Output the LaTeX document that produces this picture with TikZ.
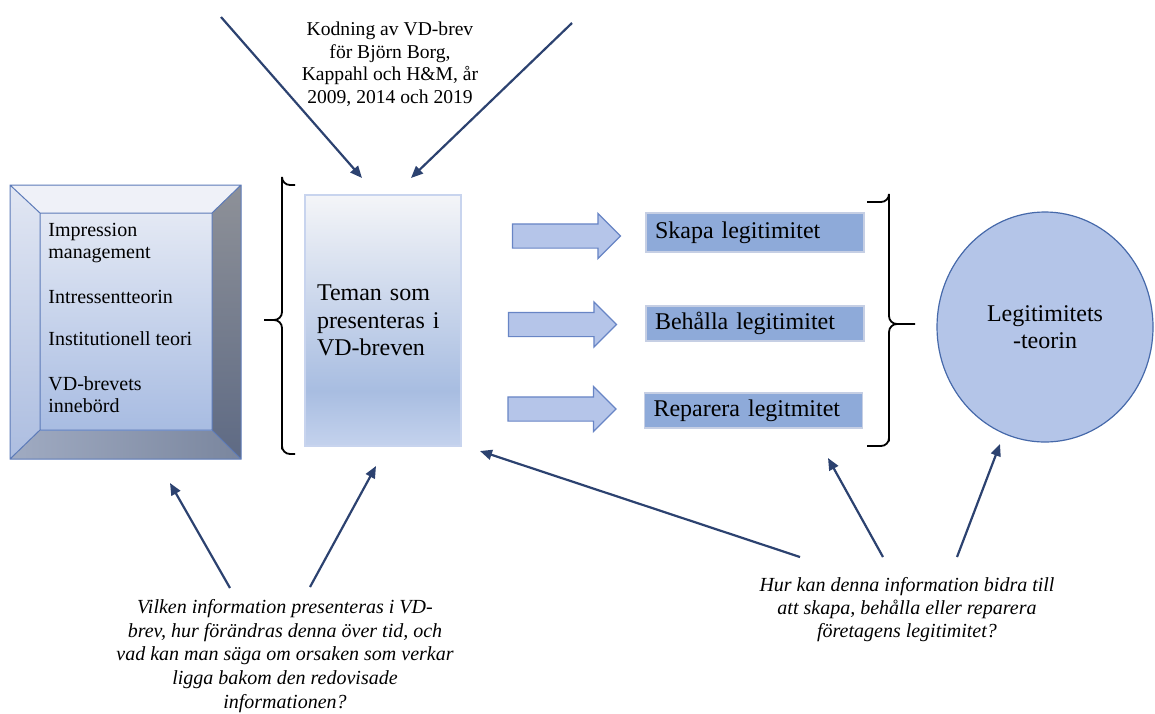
\documentclass[tikz,border=0pt]{standalone}
\usepackage{fontspec}
\setmainfont{Liberation Serif}
\usepackage{xcolor}
\definecolor{navy}{RGB}{44,66,112}
\definecolor{bevEdge}{RGB}{92,122,184}
\definecolor{bevTop}{RGB}{239,241,248}
\definecolor{bevLeftT}{RGB}{226,231,243}
\definecolor{bevLeftB}{RGB}{172,189,224}
\definecolor{bevRightT}{RGB}{142,145,152}
\definecolor{bevRightB}{RGB}{94,106,132}
\definecolor{bevBotL}{RGB}{160,171,194}
\definecolor{bevBotR}{RGB}{122,134,158}
\definecolor{innerT}{RGB}{228,233,244}
\definecolor{innerB}{RGB}{168,188,226}
\definecolor{temaTop}{RGB}{244,245,248}
\definecolor{temaMid}{RGB}{168,189,225}
\definecolor{temaBot}{RGB}{196,210,237}
\definecolor{temaEdge}{RGB}{200,212,238}
\definecolor{legFill}{RGB}{142,170,217}
\definecolor{legEdge}{RGB}{198,207,228}
\definecolor{blkFill}{RGB}{181,197,233}
\definecolor{blkEdge}{RGB}{104,133,197}
\definecolor{circFill}{RGB}{180,197,232}
\definecolor{circEdge}{RGB}{70,105,170}
\usepackage{tikz}
\usetikzlibrary{positioning,arrows.meta,calc,shapes.arrows,shapes.geometric}
\pgfdeclareverticalshading{temafill}{100bp}{color(0bp)=(temaBot); color(25bp)=(temaBot); color(36bp)=(temaMid); color(75bp)=(temaTop); color(100bp)=(temaTop)}

\begin{document}
\begin{tikzpicture}[x=0.5pt, y=-0.5pt,
  font=\fontsize{12}{13.75}\selectfont,
  smalltxt/.style={font=\fontsize{10}{10.75}\selectfont},
  toptxt/.style={font=\fontsize{9.8}{11.25}\selectfont, align=center},
  qtxtA/.style={font=\fontsize{10}{11.8}\selectfont\itshape, align=center},
  qtxtB/.style={font=\fontsize{10}{11.5}\selectfont\itshape, align=center},
  bev/.style={draw=bevEdge, line width=0.5pt},
  tema/.style={shading=temafill, draw=temaEdge, line width=0.6pt, minimum width=78pt,
    minimum height=125.5pt, text width=66pt, inner xsep=6pt, align=left},
  legbox/.style={fill=legFill, draw=legEdge, line width=0.6pt, text width=100pt,
    inner xsep=4.5pt, inner ysep=0pt, align=left},
  blk/.style={single arrow, single arrow head extend=5.25pt, inner xsep=0pt, inner ysep=5.75pt,
    minimum height=54pt, fill=blkFill, draw=blkEdge, line width=0.6pt},
  circ/.style={ellipse, fill=circFill, draw=circEdge, line width=0.6pt, minimum width=108pt,
    minimum height=115pt, align=center},
  arr/.style={-{Triangle[length=6pt,width=5pt]}, line width=1.1pt, navy},
  brc/.style={line width=0.9pt, rounded corners=4pt}]
\useasboundingbox (0,0) rectangle (1155,713);
% bevelled box with the theories
\coordinate (oTL) at (10,185); \coordinate (oTR) at (241,185);
\coordinate (oBL) at (10,459); \coordinate (oBR) at (241,459);
\coordinate (iTL) at (40,213); \coordinate (iTR) at (212,213);
\coordinate (iBL) at (40,430); \coordinate (iBR) at (212,430);
\fill[bevTop] (oTL) -- (oTR) -- (iTR) -- (iTL) -- cycle;
\shade[top color=bevLeftT, bottom color=bevLeftB] (oTL) -- (iTL) -- (iBL) -- (oBL) -- cycle;
\shade[top color=bevRightT, bottom color=bevRightB] (oTR) -- (oBR) -- (iBR) -- (iTR) -- cycle;
\shade[left color=bevBotL, right color=bevBotR] (oBL) -- (iBL) -- (iBR) -- (oBR) -- cycle;
\shade[top color=innerT, bottom color=innerB] (iTL) rectangle (iBR);
\draw[bev] (oTL) rectangle (oBR) (iTL) rectangle (iBR)
  (oTL) -- (iTL) (oTR) -- (iTR) (oBL) -- (iBL) (oBR) -- (iBR);
\node[smalltxt, anchor=west, align=left, inner sep=0pt] (teorier) at (48,318)
  {Impression\\management\\[12pt]Intressentteorin\\[10pt]Institutionell teori\\[12pt]VD-brevets\\innebörd};
% middle column
\node[tema] (tema) at (383,320.5) {Teman som\\presenteras i\\VD-breven};
\node[toptxt] (kod) at (390,64) {Kodning av VD-brev\\för Björn Borg,\\Kappahl och H\&M, år\\2009, 2014 och 2019};
\node[blk] (blkA) at (560.5,236) {};
\node[blk] (blkB) at (556.5,324.5) {};
\node[blk] (blkC) at (556,409) {};
\node[legbox, minimum height=19.5pt] (skapa) at (755,232.5) {Skapa legitimitet};
\node[legbox, minimum height=17.5pt] (behalla) at (755,323.5) {Behålla legitimitet};
\node[legbox, minimum height=17.5pt] (reparera) at (753.5,410.5) {Reparera legitmitet};
\node[circ] (teori) at (1045,327) {Legitimitets\\-teorin};
% questions
\node[qtxtA] (fragaA) at (285,656) {Vilken information presenteras i VD-\\brev, hur förändras denna över tid, och\\vad kan man säga om orsaken som verkar\\ligga bakom den redovisade\\informationen?};
\node[qtxtB] (fragaB) at (907,610) {Hur kan denna information bidra till\\att skapa, behålla eller reparera\\företagens legitimitet?};
% braces
\coordinate (brL1) at (295,454); \coordinate (brL2) at (295,185); \coordinate (brLtip) at (264,320);
\coordinate (brR1) at (867,202); \coordinate (brR2) at (867,446); \coordinate (brRtip) at (915,324);
\draw[brc] (brL2) -| (brL2 -| 282,0) |- (brLtip) (brLtip) -| (brL1 -| 282,0) |- (brL1);
\draw[brc] (brR1) -| (brR1 -| 889,0) |- (brRtip) (brRtip) -| (brR2 -| 889,0) |- (brR2);
% arrows
\coordinate (kodL) at (221,17);  \coordinate (temaL) at (362,178);
\coordinate (kodR) at (572,23);  \coordinate (temaR) at (411,178);
\coordinate (fAa) at (230,588);  \coordinate (bevB) at (170,483);
\coordinate (fAb) at (310,587);  \coordinate (temaB) at (376,466);
\coordinate (fBa) at (800,557);  \coordinate (temaC) at (480,451);
\coordinate (fBb) at (883,557);  \coordinate (repB) at (828,458);
\coordinate (fBc) at (957,557);  \coordinate (teoriB) at (1000,444);
\draw[arr] (kodL) -- (temaL);
\draw[arr] (kodR) -- (temaR);
\draw[arr] (fAa) -- (bevB);
\draw[arr] (fAb) -- (temaB);
\draw[arr] (fBa) -- (temaC);
\draw[arr] (fBb) -- (repB);
\draw[arr] (fBc) -- (teoriB);
\end{tikzpicture}
\end{document}
